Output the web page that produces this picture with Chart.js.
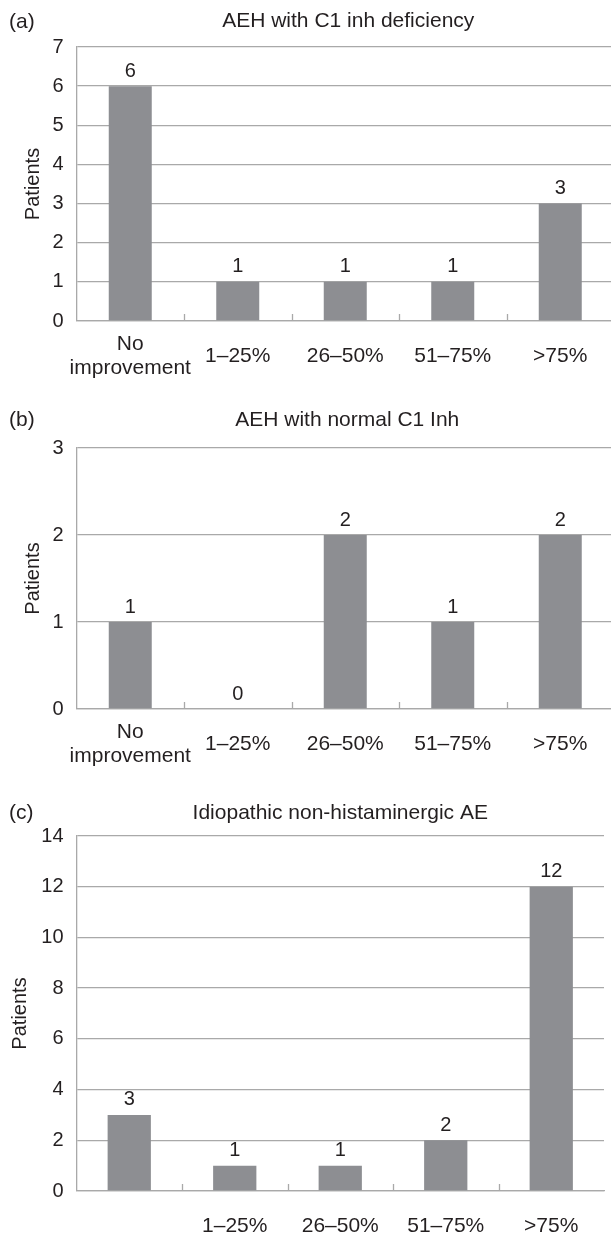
<!DOCTYPE html>
<html>
<head>
<meta charset="utf-8">
<script src="https://cdn.jsdelivr.net/npm/chart.js@4.4.1/dist/chart.umd.min.js"></script>
<style>
  body { margin: 0; background: #fff; width: 611px; height: 1236px; overflow: hidden; position: relative; }
  canvas { position: absolute; left: 0; }
</style>
</head>
<body>
<canvas id="chartA" width="615" height="380" style="top:0px"></canvas>
<canvas id="chartB" width="615" height="380" style="top:390px"></canvas>
<canvas id="chartC" width="611" height="456" style="top:780px"></canvas>
<script>
// data
const categories = [['No', 'improvement'], '1–25%', '26–50%', '51–75%', '>75%'];
const categoriesC = ['', '1–25%', '26–50%', '51–75%', '>75%'];
const patientsA = [6, 1, 1, 1, 3];
const patientsB = [1, 0, 2, 1, 2];
const patientsC = [3, 1, 1, 2, 12];
const titles = ['AEH with C1 inh deficiency', 'AEH with normal C1 Inh', 'Idiopathic non-histaminergic AE'];
const panelLabels = ['(a)', '(b)', '(c)'];
const yMax = [7, 3, 14];
const yStep = [1, 1, 2];

const FONT = '"Liberation Sans", Arial, Helvetica, sans-serif';
const TEXT = '#231f20';
const GRID = '#a9a9a9';
const BAR = '#8d8e92';

// titles, panel letters, inner ticks and value labels
const decor = {
  id: 'decor',
  afterDatasetsDraw(chart, args, o) {
    const ctx = chart.ctx;
    const area = chart.chartArea;
    const x = chart.scales.x;
    ctx.save();
    ctx.fillStyle = TEXT;
    ctx.font = '21px ' + FONT;
    ctx.textBaseline = 'middle';
    ctx.textAlign = 'left';
    ctx.fillText(o.panel, 9, o.panelY);
    ctx.textAlign = 'center';
    ctx.fillText(o.title, (area.left + area.right) / 2 + o.titleDx, o.titleY);

    // small ticks pointing up between categories
    ctx.strokeStyle = GRID;
    ctx.lineWidth = 1.3;
    const n = chart.data.labels.length;
    for (let i = 1; i < n; i++) {
      const px = Math.round((x.getPixelForValue(i - 1) + x.getPixelForValue(i)) / 2) + 0.5;
      ctx.beginPath();
      ctx.moveTo(px, area.bottom);
      ctx.lineTo(px, area.bottom - 7);
      ctx.stroke();
    }

    // values above bars
    ctx.font = '20px ' + FONT;
    ctx.textBaseline = 'bottom';
    const meta = chart.getDatasetMeta(0);
    meta.data.forEach((bar, i) => {
      ctx.fillText(chart.data.datasets[0].data[i], bar.x, bar.y - 5);
    });
    ctx.restore();
  }
};

function makeChart(id, labels, values, k, o) {
  return new Chart(document.getElementById(id), {
    type: 'bar',
    data: {
      labels: labels,
      datasets: [{
        data: values,
        backgroundColor: BAR,
        borderWidth: 0,
        barPercentage: o.barPct,
        categoryPercentage: 1
      }]
    },
    options: {
      responsive: false,
      animation: false,
      events: [],
      layout: { padding: { top: o.top, right: o.right, left: 0, bottom: 0 } },
      plugins: {
        legend: { display: false },
        tooltip: { enabled: false },
        decor: {
          panel: panelLabels[k], title: titles[k],
          panelY: o.panelY, titleY: o.titleY, titleDx: o.titleDx
        }
      },
      scales: {
        x: {
          offset: true,
          grid: { display: false },
          border: { display: true, color: GRID, width: 1.3 },
          ticks: {
            color: TEXT,
            font: { family: FONT, size: 21, lineHeight: 1.15 },
            padding: o.xPad,
            crossAlign: 'center',
            maxRotation: 0,
            autoSkip: false
          },
          afterFit(s) { s.height = o.xHeight; }
        },
        y: {
          min: 0,
          max: yMax[k],
          grid: { color: GRID, lineWidth: 1.3, drawTicks: false },
          border: { display: true, color: GRID, width: 1.3 },
          ticks: {
            stepSize: yStep[k],
            color: TEXT,
            padding: 13,
            font: { family: FONT, size: 20 }
          },
          title: {
            display: true,
            text: 'Patients',
            color: TEXT,
            font: { family: FONT, size: 20, lineHeight: 1.2 },
            padding: { top: o.yTitlePad, bottom: 0 }
          },
          afterFit(s) { s.width = 76.5; }
        }
      }
    },
    plugins: [decor]
  });
}

makeChart('chartA', categories, patientsA, 0, {
  top: 47, right: 1, xHeight: 59, xPad: 15, barPct: 0.4,
  panelY: 22, titleY: 21, titleDx: 3, yTitlePad: 21
});
makeChart('chartB', categories, patientsB, 1, {
  top: 58, right: 1, xHeight: 61, xPad: 15, barPct: 0.4,
  panelY: 30, titleY: 30, titleDx: 2, yTitlePad: 21
});
makeChart('chartC', categoriesC, patientsC, 2, {
  top: 56, right: 7, xHeight: 45, xPad: 27, barPct: 0.41,
  panelY: 33, titleY: 33, titleDx: 0, yTitlePad: 8
});
</script>
</body>
</html>
